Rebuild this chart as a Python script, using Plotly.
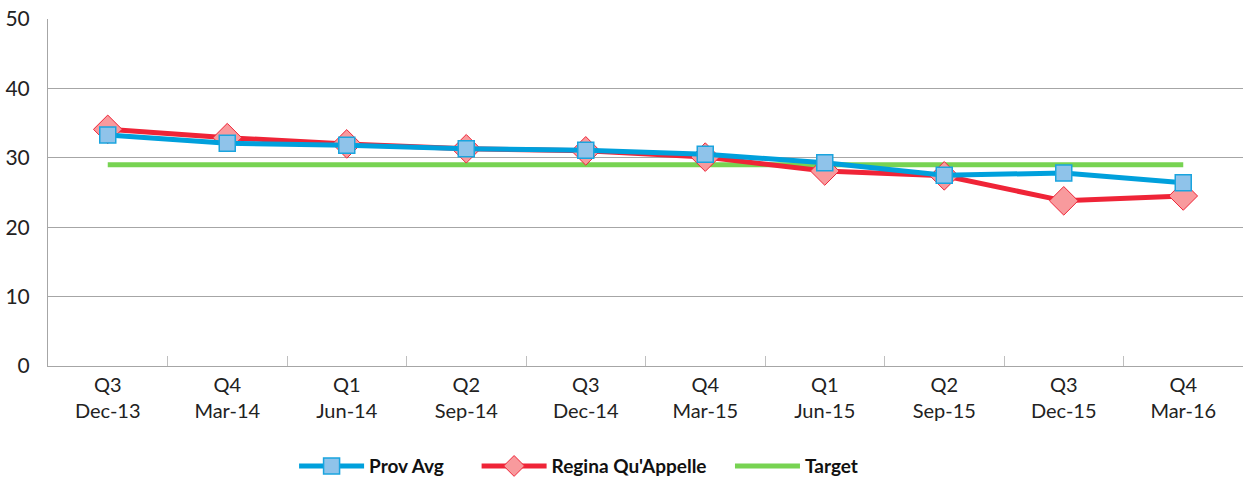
import plotly.graph_objects as go

quarters = ["Q3", "Q4", "Q1", "Q2", "Q3", "Q4", "Q1", "Q2", "Q3", "Q4"]
months = ["Dec-13", "Mar-14", "Jun-14", "Sep-14", "Dec-14", "Mar-15", "Jun-15", "Sep-15", "Dec-15", "Mar-16"]
categories = [f"{q}<br>{m}" for q, m in zip(quarters, months)]

prov_avg = [33.3, 32.1, 31.8, 31.3, 31.1, 30.5, 29.3, 27.5, 27.8, 26.4]
regina = [34.1, 32.9, 32.0, 31.3, 31.0, 30.1, 28.1, 27.4, 23.8, 24.5]
target = [29.0] * 10

fig = go.Figure()
fig.add_trace(go.Scatter(
    x=categories, y=target, name="Target", mode="lines",
    line=dict(color="#77d352", width=5), legendrank=3))
fig.add_trace(go.Scatter(
    x=categories, y=regina, name="Regina Qu'Appelle    ", mode="lines+markers",
    line=dict(color="#ef2437", width=5),
    marker=dict(symbol="diamond", size=22, color="#f89a9d", line=dict(color="#ef2437", width=1)),
    legendrank=2))
fig.add_trace(go.Scatter(
    x=categories, y=prov_avg, name="Prov Avg      ", mode="lines+markers",
    line=dict(color="#00a0dc", width=5),
    marker=dict(symbol="square", size=16, color="#8fc3ea", line=dict(color="#1aa4de", width=1.5)),
    legendrank=1))

fig.update_layout(
    width=1246, height=482,
    margin=dict(l=48, r=3, t=19, b=116, autoexpand=False),
    paper_bgcolor="white", plot_bgcolor="white",
    font=dict(family="Lato", color="#222222"),
    showlegend=True,
    legend=dict(orientation="h", x=0.444, xanchor="center", yref="container", y=0.033, yanchor="middle",
                font=dict(size=19, family="Lato", weight="bold", color="#111111"),
                itemwidth=65, traceorder="normal"),
    xaxis=dict(type="category", range=[-0.5, 9.5], showgrid=False, automargin=False,
               showline=True, linecolor="#a6a6a6", linewidth=1,
               ticks="inside", tickson="boundaries", ticklen=10, tickcolor="#bfbfbf",
               ticklabelstandoff=1,
               tickfont=dict(size=20, family="Lato", color="#222222")),
    yaxis=dict(range=[0, 50], dtick=10, showgrid=True, gridcolor="#a6a6a6", gridwidth=1,
               showline=True, linecolor="#a6a6a6", linewidth=1, zeroline=False, automargin=False,
               ticks="", ticklabelstandoff=13,
               tickfont=dict(size=21, family="Lato", color="#222222")),
)

fig.write_html("out.html", config={"displayModeBar": False},
               post_script="document.body.style.margin='0';document.body.style.padding='0';")
